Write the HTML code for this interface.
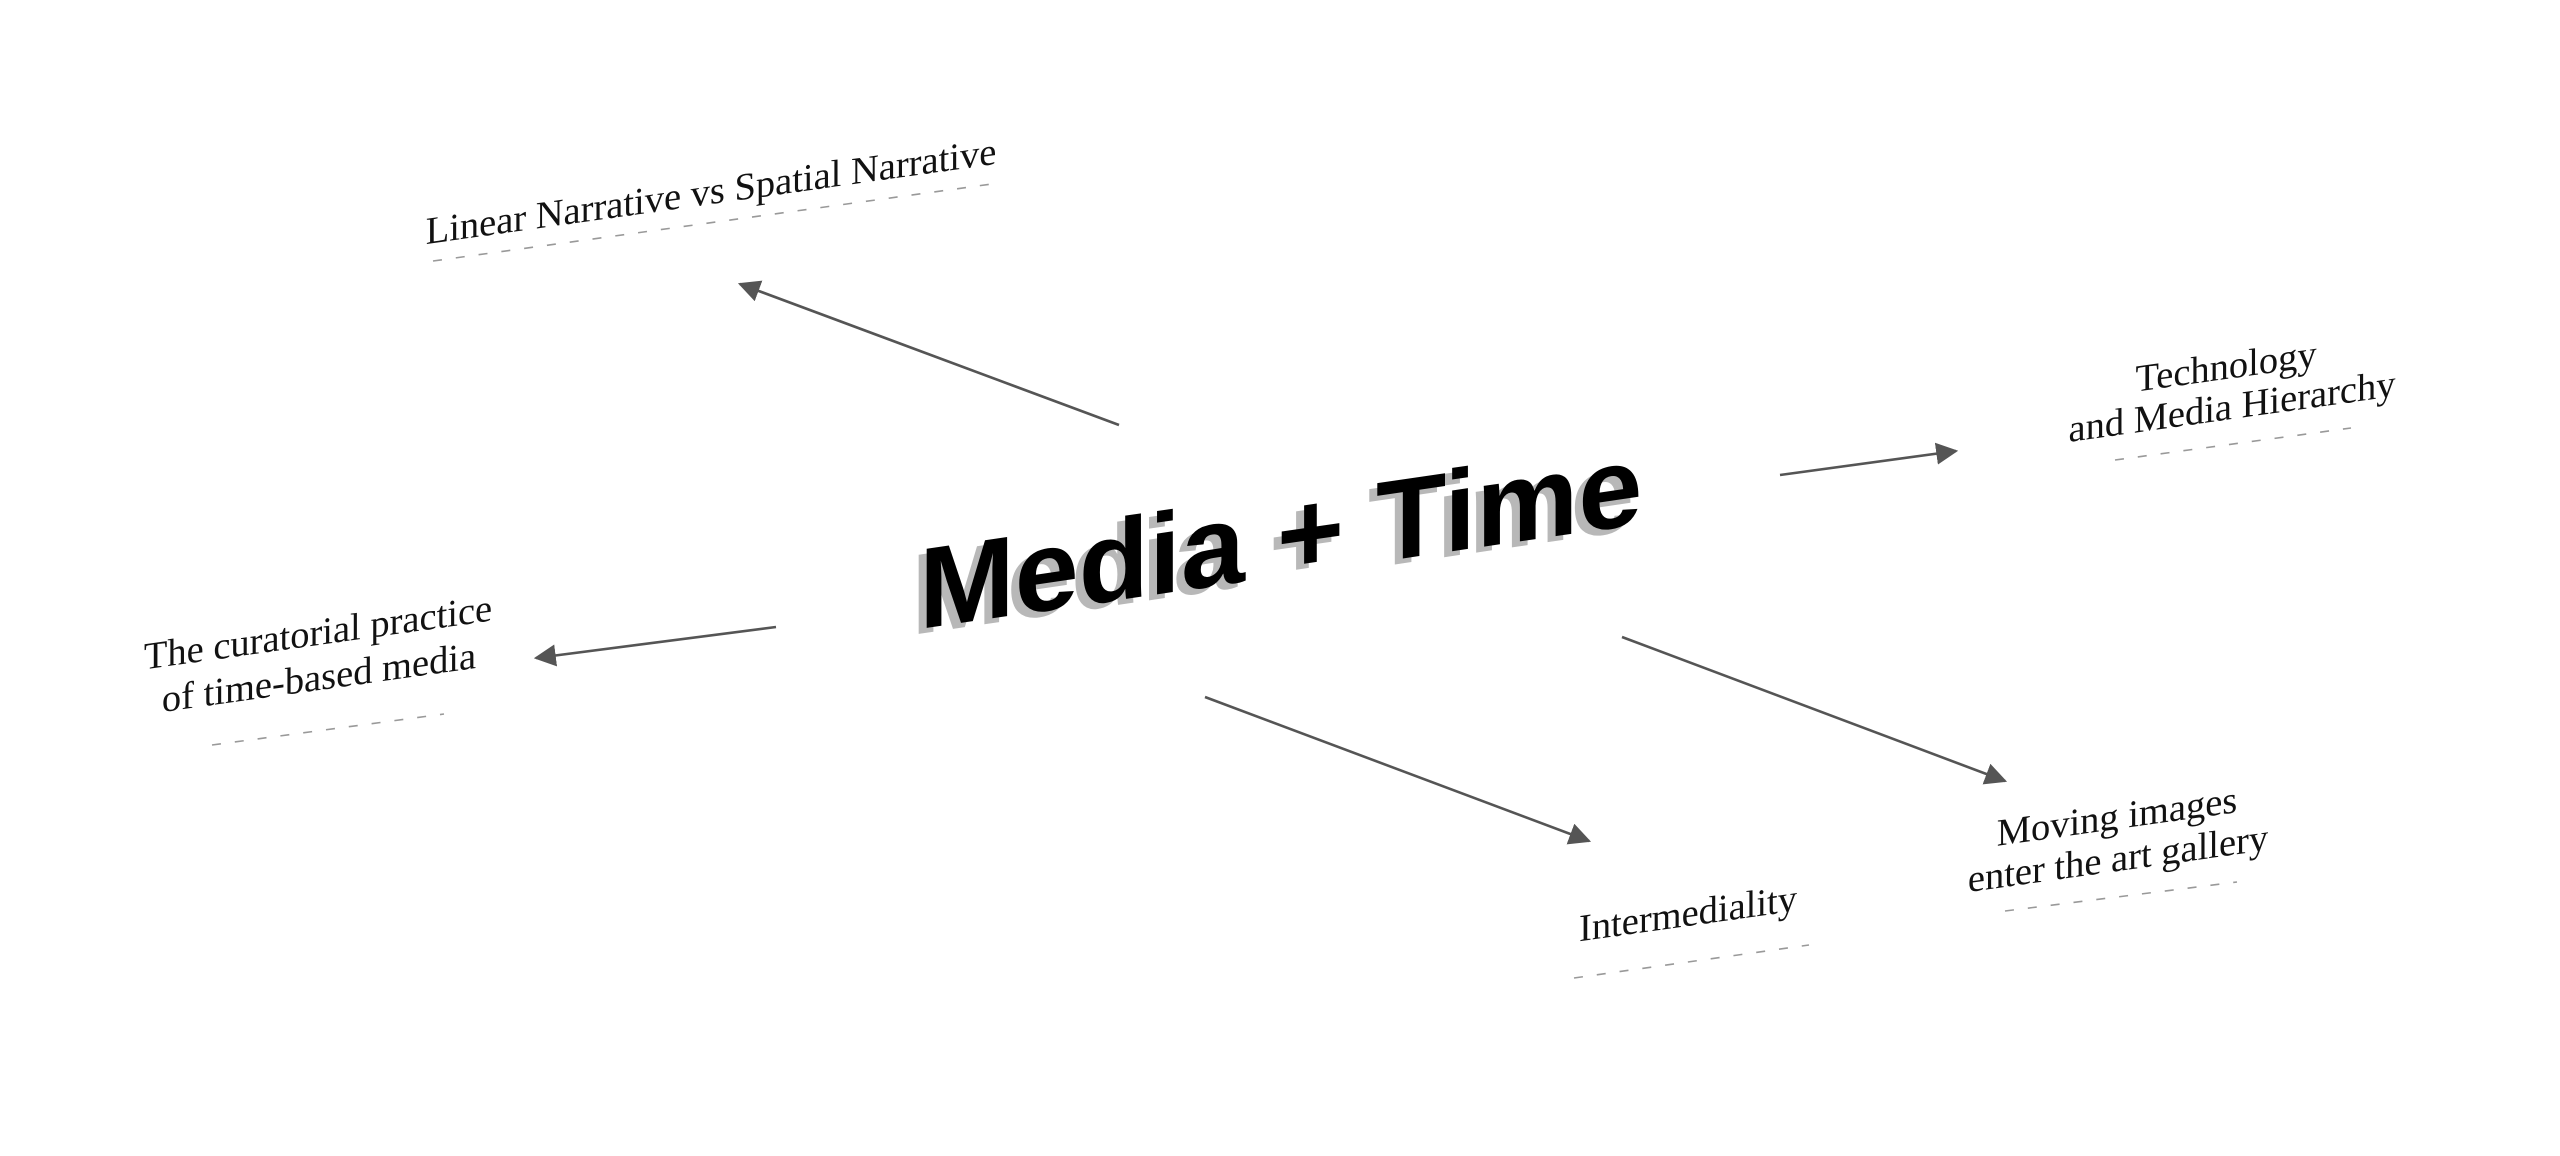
<!DOCTYPE html>
<html><head><meta charset="utf-8"><style>
html,body{margin:0;padding:0;background:#fff;}
svg{display:block;}
.t{font-family:"Liberation Serif",serif;font-size:38.5px;fill:#111;text-anchor:middle;}
.u{stroke:#999;stroke-width:1.6;stroke-dasharray:9 14;fill:none;}
.a{stroke:#555;stroke-width:2.6;fill:none;}
</style></head><body>
<svg width="2560" height="1156" viewBox="0 0 2560 1156" xmlns="http://www.w3.org/2000/svg">
<defs>
<marker id="m" viewBox="0 0 10 10" refX="9" refY="5" markerWidth="22" markerHeight="22" markerUnits="userSpaceOnUse" orient="auto"><path d="M0,0 L10,5 L0,10 z" fill="#555"/></marker>
</defs>

<g font-family="Liberation Sans, sans-serif" font-weight="bold" font-size="115">
<text transform="translate(911,635) skewY(-8.3)" fill="#b8b8b8">Media + Time</text>
<text transform="translate(919,629) skewY(-8.3)" fill="#000">Media + Time</text>
</g>

<line class="a" x1="1119" y1="425" x2="740" y2="284" marker-end="url(#m)"/>
<line class="a" x1="1780" y1="475" x2="1956" y2="451" marker-end="url(#m)"/>
<line class="a" x1="776" y1="627" x2="536" y2="658" marker-end="url(#m)"/>
<line class="a" x1="1205" y1="697" x2="1589" y2="841" marker-end="url(#m)"/>
<line class="a" x1="1622" y1="637" x2="2005" y2="781" marker-end="url(#m)"/>

<text class="t" transform="translate(711,204) skewY(-8)">Linear Narrative vs Spatial Narrative</text>
<line class="u" x1="433" y1="261" x2="999" y2="183"/>

<text class="t" transform="translate(2226,379) skewY(-8)">Technology</text>
<text class="t" transform="translate(2232,419) skewY(-8)">and Media Hierarchy</text>
<line class="u" x1="2115" y1="460" x2="2351" y2="428"/>

<text class="t" transform="translate(318,645) skewY(-8)">The curatorial practice</text>
<text class="t" transform="translate(319,690) skewY(-8)">of time-based media</text>
<line class="u" x1="212" y1="745" x2="444" y2="714"/>

<text class="t" transform="translate(1688,926) skewY(-8)">Intermediality</text>
<line class="u" x1="1574" y1="978" x2="1809" y2="945"/>

<text class="t" transform="translate(2117,829) skewY(-8)">Moving images</text>
<text class="t" transform="translate(2118,871) skewY(-8)">enter the art gallery</text>
<line class="u" x1="2005" y1="911" x2="2237" y2="882"/>
</svg>
</body></html>
